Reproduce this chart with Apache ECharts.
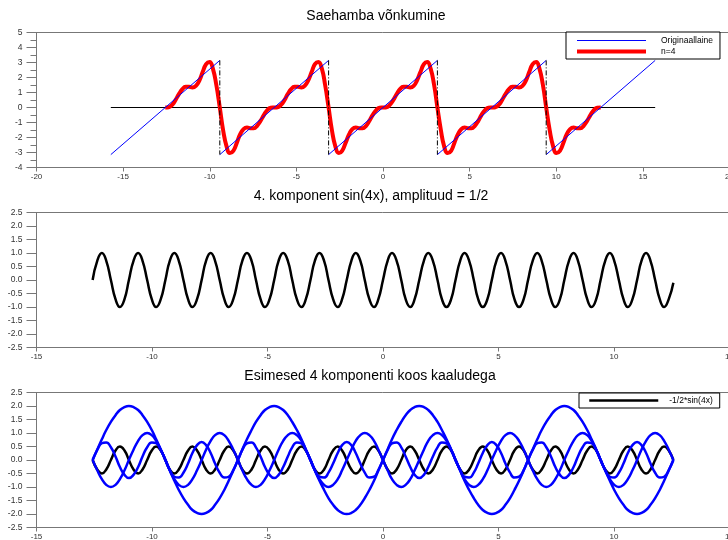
<!DOCTYPE html>
<html>
<head>
<meta charset="utf-8">
<script src="https://cdn.jsdelivr.net/npm/echarts@6/dist/echarts.min.js"></script>
<style>
  html, body { margin: 0; padding: 0; background: #fff; }
  #chart { width: 728px; height: 540px; }
</style>
</head>
<body>
<div id="chart"></div>
<script>
// x samples, -4pi .. 4pi (step pi/16)
const xs = [
  -12.57, -12.37, -12.17, -11.98, -11.78, -11.58, -11.39, -11.19, -11.0, -10.8, -10.6, -10.41, -10.21, -10.01, -9.82, -9.62,
  -9.42, -9.23, -9.03, -8.84, -8.64, -8.44, -8.25, -8.05, -7.85, -7.66, -7.46, -7.27, -7.07, -6.87, -6.68, -6.48,
  -6.28, -6.09, -5.89, -5.69, -5.5, -5.3, -5.11, -4.91, -4.71, -4.52, -4.32, -4.12, -3.93, -3.73, -3.53, -3.34,
  -3.14, -2.95, -2.75, -2.55, -2.36, -2.16, -1.96, -1.77, -1.57, -1.37, -1.18, -0.98, -0.79, -0.59, -0.39, -0.2,
  0, 0.2, 0.39, 0.59, 0.79, 0.98, 1.18, 1.37, 1.57, 1.77, 1.96, 2.16, 2.36, 2.55, 2.75, 2.95,
  3.14, 3.34, 3.53, 3.73, 3.93, 4.12, 4.32, 4.52, 4.71, 4.91, 5.11, 5.3, 5.5, 5.69, 5.89, 6.09,
  6.28, 6.48, 6.68, 6.87, 7.07, 7.27, 7.46, 7.66, 7.85, 8.05, 8.25, 8.44, 8.64, 8.84, 9.03, 9.23,
  9.42, 9.62, 9.82, 10.01, 10.21, 10.41, 10.6, 10.8, 11.0, 11.19, 11.39, 11.58, 11.78, 11.98, 12.17, 12.37,
  12.57
];

// top chart: sawtooth approximation, n=4
const fourierN4 = [
  0, 0.02, 0.17, 0.49, 0.89, 1.22, 1.39, 1.38, 1.33, 1.44, 1.8, 2.36, 2.89, 3.04, 2.59, 1.5,
  0, -1.5, -2.59, -3.04, -2.89, -2.36, -1.8, -1.44, -1.33, -1.38, -1.39, -1.22, -0.89, -0.49, -0.17, -0.02,
  0, 0.02, 0.17, 0.49, 0.89, 1.22, 1.39, 1.38, 1.33, 1.44, 1.8, 2.36, 2.89, 3.04, 2.59, 1.5,
  0, -1.5, -2.59, -3.04, -2.89, -2.36, -1.8, -1.44, -1.33, -1.38, -1.39, -1.22, -0.89, -0.49, -0.17, -0.02,
  0, 0.02, 0.17, 0.49, 0.89, 1.22, 1.39, 1.38, 1.33, 1.44, 1.8, 2.36, 2.89, 3.04, 2.59, 1.5,
  0, -1.5, -2.59, -3.04, -2.89, -2.36, -1.8, -1.44, -1.33, -1.38, -1.39, -1.22, -0.89, -0.49, -0.17, -0.02,
  0, 0.02, 0.17, 0.49, 0.89, 1.22, 1.39, 1.38, 1.33, 1.44, 1.8, 2.36, 2.89, 3.04, 2.59, 1.5,
  0, -1.5, -2.59, -3.04, -2.89, -2.36, -1.8, -1.44, -1.33, -1.38, -1.39, -1.22, -0.89, -0.49, -0.17, -0.02,
  0
];

// original wave: straight pieces and the jumps between them
const sawStartX = [-15.71, -9.42, -3.14, 3.14, 9.42];
const sawEndX = [-9.42, -3.14, 3.14, 9.42, 15.71];
const sawY = [-3.14, 3.14];
const jumpX = [-9.42, -3.14, 3.14, 9.42];
const zeroLineX = [-15.71, 15.71];

// middle chart: sin(4x)
const sin4 = [
  0, 0.71, 1, 0.71, 0, -0.71, -1, -0.71, 0, 0.71, 1, 0.71, 0, -0.71, -1, -0.71,
  0, 0.71, 1, 0.71, 0, -0.71, -1, -0.71, 0, 0.71, 1, 0.71, 0, -0.71, -1, -0.71,
  0, 0.71, 1, 0.71, 0, -0.71, -1, -0.71, 0, 0.71, 1, 0.71, 0, -0.71, -1, -0.71,
  0, 0.71, 1, 0.71, 0, -0.71, -1, -0.71, 0, 0.71, 1, 0.71, 0, -0.71, -1, -0.71,
  0, 0.71, 1, 0.71, 0, -0.71, -1, -0.71, 0, 0.71, 1, 0.71, 0, -0.71, -1, -0.71,
  0, 0.71, 1, 0.71, 0, -0.71, -1, -0.71, 0, 0.71, 1, 0.71, 0, -0.71, -1, -0.71,
  0, 0.71, 1, 0.71, 0, -0.71, -1, -0.71, 0, 0.71, 1, 0.71, 0, -0.71, -1, -0.71,
  0, 0.71, 1, 0.71, 0, -0.71, -1, -0.71, 0, 0.71, 1, 0.71, 0, -0.71, -1, -0.71,
  -0.1
];

// bottom chart: weighted components
const comp1 = [
  0, 0.39, 0.77, 1.11, 1.41, 1.66, 1.85, 1.96, 2, 1.96, 1.85, 1.66, 1.41, 1.11, 0.77, 0.39,
  0, -0.39, -0.77, -1.11, -1.41, -1.66, -1.85, -1.96, -2, -1.96, -1.85, -1.66, -1.41, -1.11, -0.77, -0.39,
  0, 0.39, 0.77, 1.11, 1.41, 1.66, 1.85, 1.96, 2, 1.96, 1.85, 1.66, 1.41, 1.11, 0.77, 0.39,
  0, -0.39, -0.77, -1.11, -1.41, -1.66, -1.85, -1.96, -2, -1.96, -1.85, -1.66, -1.41, -1.11, -0.77, -0.39,
  0, 0.39, 0.77, 1.11, 1.41, 1.66, 1.85, 1.96, 2, 1.96, 1.85, 1.66, 1.41, 1.11, 0.77, 0.39,
  0, -0.39, -0.77, -1.11, -1.41, -1.66, -1.85, -1.96, -2, -1.96, -1.85, -1.66, -1.41, -1.11, -0.77, -0.39,
  0, 0.39, 0.77, 1.11, 1.41, 1.66, 1.85, 1.96, 2, 1.96, 1.85, 1.66, 1.41, 1.11, 0.77, 0.39,
  0, -0.39, -0.77, -1.11, -1.41, -1.66, -1.85, -1.96, -2, -1.96, -1.85, -1.66, -1.41, -1.11, -0.77, -0.39,
  0
];
const comp2 = [
  0, -0.38, -0.71, -0.92, -1, -0.92, -0.71, -0.38, 0, 0.38, 0.71, 0.92, 1, 0.92, 0.71, 0.38,
  0, -0.38, -0.71, -0.92, -1, -0.92, -0.71, -0.38, 0, 0.38, 0.71, 0.92, 1, 0.92, 0.71, 0.38,
  0, -0.38, -0.71, -0.92, -1, -0.92, -0.71, -0.38, 0, 0.38, 0.71, 0.92, 1, 0.92, 0.71, 0.38,
  0, -0.38, -0.71, -0.92, -1, -0.92, -0.71, -0.38, 0, 0.38, 0.71, 0.92, 1, 0.92, 0.71, 0.38,
  0, -0.38, -0.71, -0.92, -1, -0.92, -0.71, -0.38, 0, 0.38, 0.71, 0.92, 1, 0.92, 0.71, 0.38,
  0, -0.38, -0.71, -0.92, -1, -0.92, -0.71, -0.38, 0, 0.38, 0.71, 0.92, 1, 0.92, 0.71, 0.38,
  0, -0.38, -0.71, -0.92, -1, -0.92, -0.71, -0.38, 0, 0.38, 0.71, 0.92, 1, 0.92, 0.71, 0.38,
  0, -0.38, -0.71, -0.92, -1, -0.92, -0.71, -0.38, 0, 0.38, 0.71, 0.92, 1, 0.92, 0.71, 0.38,
  0
];
const comp3 = [
  0, 0.37, 0.62, 0.65, 0.47, 0.13, -0.26, -0.55, -0.67, -0.55, -0.26, 0.13, 0.47, 0.65, 0.62, 0.37,
  0, -0.37, -0.62, -0.65, -0.47, -0.13, 0.26, 0.55, 0.67, 0.55, 0.26, -0.13, -0.47, -0.65, -0.62, -0.37,
  0, 0.37, 0.62, 0.65, 0.47, 0.13, -0.26, -0.55, -0.67, -0.55, -0.26, 0.13, 0.47, 0.65, 0.62, 0.37,
  0, -0.37, -0.62, -0.65, -0.47, -0.13, 0.26, 0.55, 0.67, 0.55, 0.26, -0.13, -0.47, -0.65, -0.62, -0.37,
  0, 0.37, 0.62, 0.65, 0.47, 0.13, -0.26, -0.55, -0.67, -0.55, -0.26, 0.13, 0.47, 0.65, 0.62, 0.37,
  0, -0.37, -0.62, -0.65, -0.47, -0.13, 0.26, 0.55, 0.67, 0.55, 0.26, -0.13, -0.47, -0.65, -0.62, -0.37,
  0, 0.37, 0.62, 0.65, 0.47, 0.13, -0.26, -0.55, -0.67, -0.55, -0.26, 0.13, 0.47, 0.65, 0.62, 0.37,
  0, -0.37, -0.62, -0.65, -0.47, -0.13, 0.26, 0.55, 0.67, 0.55, 0.26, -0.13, -0.47, -0.65, -0.62, -0.37,
  0
];
const comp4 = [
  0, -0.35, -0.5, -0.35, 0, 0.35, 0.5, 0.35, 0, -0.35, -0.5, -0.35, 0, 0.35, 0.5, 0.35,
  0, -0.35, -0.5, -0.35, 0, 0.35, 0.5, 0.35, 0, -0.35, -0.5, -0.35, 0, 0.35, 0.5, 0.35,
  0, -0.35, -0.5, -0.35, 0, 0.35, 0.5, 0.35, 0, -0.35, -0.5, -0.35, 0, 0.35, 0.5, 0.35,
  0, -0.35, -0.5, -0.35, 0, 0.35, 0.5, 0.35, 0, -0.35, -0.5, -0.35, 0, 0.35, 0.5, 0.35,
  0, -0.35, -0.5, -0.35, 0, 0.35, 0.5, 0.35, 0, -0.35, -0.5, -0.35, 0, 0.35, 0.5, 0.35,
  0, -0.35, -0.5, -0.35, 0, 0.35, 0.5, 0.35, 0, -0.35, -0.5, -0.35, 0, 0.35, 0.5, 0.35,
  0, -0.35, -0.5, -0.35, 0, 0.35, 0.5, 0.35, 0, -0.35, -0.5, -0.35, 0, 0.35, 0.5, 0.35,
  0, -0.35, -0.5, -0.35, 0, 0.35, 0.5, 0.35, 0, -0.35, -0.5, -0.35, 0, 0.35, 0.5, 0.35,
  0
];

const titles = [
  'Saehamba võnkumine',
  '4. komponent sin(4x), amplituud = 1/2',
  'Esimesed 4 komponenti koos kaaludega'
];

const FONT = 'Liberation Sans, Arial, sans-serif';
const AXIS_GREY = '#777';

function pairs(yArr) {
  return xs.map((x, i) => [x, yArr[i]]);
}

function sawData() {
  const out = [];
  sawStartX.forEach((x0, i) => {
    out.push([x0, sawY[0]], [sawEndX[i], sawY[1]], '-');
  });
  return out;
}

function jumpData() {
  const out = [];
  jumpX.forEach(x => {
    out.push([x, sawY[1]], [x, sawY[0]], '-');
  });
  return out;
}

function xAxisFor(gridIndex, min, max) {
  return {
    type: 'value', gridIndex: gridIndex, min: min, max: max, interval: 5,
    axisLine: { onZero: false, lineStyle: { color: AXIS_GREY, width: 1 } },
    axisTick: { length: 4, lineStyle: { color: AXIS_GREY } },
    axisLabel: { fontSize: 8, color: '#333', margin: 5, fontFamily: FONT, showMinLabel: true, showMaxLabel: true },
    splitLine: { show: false }
  };
}

function yAxisFor(gridIndex, min, max, interval, minor, digits) {
  return {
    type: 'value', gridIndex: gridIndex, min: min, max: max, interval: interval,
    axisLine: { onZero: false, lineStyle: { color: AXIS_GREY, width: 1 } },
    axisTick: { length: 10, lineStyle: { color: AXIS_GREY } },
    minorTick: { show: minor, splitNumber: 2, length: 6, lineStyle: { color: AXIS_GREY } },
    axisLabel: {
      fontSize: 8.5, color: '#333', margin: 14, fontFamily: FONT,
      showMinLabel: true, showMaxLabel: true,
      formatter: v => v.toFixed(digits)
    },
    splitLine: { show: false },
    minorSplitLine: { show: false }
  };
}

function lineSeries(name, data, color, width, xi, extra) {
  return Object.assign({
    type: 'line', name: name, data: data,
    xAxisIndex: xi, yAxisIndex: xi,
    symbol: 'none', color: color,
    lineStyle: { color: color, width: width },
    emphasis: { disabled: true },
    animation: false
  }, extra || {});
}

const gridBox = {
  left: 36.5, width: 693, height: 135, outerBoundsMode: 'none',
  show: true, borderColor: AXIS_GREY, borderWidth: 1, backgroundColor: 'transparent'
};

const legendBase = {
  orient: 'vertical', align: 'left',
  itemWidth: 69, itemHeight: 8, itemGap: 2,
  borderColor: '#000', borderWidth: 1, backgroundColor: '#fff', borderRadius: 0,
  selectedMode: false,
  itemStyle: { opacity: 0 },
  lineStyle: { width: 'inherit' }
};

const chart = echarts.init(document.getElementById('chart'));
chart.setOption({
  backgroundColor: '#fff',
  animation: false,
  textStyle: { fontFamily: FONT },
  title: [
    { text: titles[0], left: 376, top: 9, textAlign: 'center', padding: 0, textStyle: { fontSize: 14, fontWeight: 'normal', color: '#000', fontFamily: FONT } },
    { text: titles[1], left: 371, top: 189, textAlign: 'center', padding: 0, textStyle: { fontSize: 14, fontWeight: 'normal', color: '#000', fontFamily: FONT } },
    { text: titles[2], left: 370, top: 369, textAlign: 'center', padding: 0, textStyle: { fontSize: 14, fontWeight: 'normal', color: '#000', fontFamily: FONT } }
  ],
  legend: [
    Object.assign({
      data: ['Originaallaine', 'n=4'],
      left: 566, top: 32, padding: [4, 7, 3, 9],
      textStyle: { fontSize: 8.5, color: '#000', fontFamily: FONT, padding: [0, 0, 0, 10] }
    }, legendBase),
    Object.assign({
      data: ['-1/2*sin(4x)'],
      left: 579, top: 393, padding: [3, 7, 3, 9],
      textStyle: { fontSize: 8.5, color: '#000', fontFamily: FONT, padding: [0, 0, 0, 6] }
    }, legendBase)
  ],
  grid: [
    Object.assign({ top: 32.5 }, gridBox),
    Object.assign({ top: 212.5 }, gridBox),
    Object.assign({ top: 392.5 }, gridBox)
  ],
  xAxis: [
    xAxisFor(0, -20, 20),
    xAxisFor(1, -15, 15),
    xAxisFor(2, -15, 15)
  ],
  yAxis: [
    yAxisFor(0, -4, 5, 1, true, 0),
    yAxisFor(1, -2.5, 2.5, 0.5, false, 1),
    yAxisFor(2, -2.5, 2.5, 0.5, false, 1)
  ],
  series: [
    lineSeries('zero', zeroLineX.map(x => [x, 0]), '#000', 1, 0),
    lineSeries('n=4', pairs(fourierN4), '#ff0000', 4, 0, { smooth: true }),
    lineSeries('Originaallaine', sawData(), '#0000ff', 1, 0),
    lineSeries('jumps', jumpData(), '#000', 1, 0, { lineStyle: { color: '#000', width: 1, type: [5, 2, 1, 2] } }),

    lineSeries('sin(4x)', pairs(sin4), '#000', 2.5, 1, { smooth: true }),

    lineSeries('-1/2*sin(4x)', pairs(comp4), '#000', 2.5, 2, { smooth: true }),
    lineSeries('2*sin(x)', pairs(comp1), '#0000ff', 2.5, 2, { smooth: true }),
    lineSeries('-sin(2x)', pairs(comp2), '#0000ff', 2.5, 2, { smooth: true }),
    lineSeries('2/3*sin(3x)', pairs(comp3), '#0000ff', 2.5, 2, { smooth: true })
  ]
});
</script>
</body>
</html>
